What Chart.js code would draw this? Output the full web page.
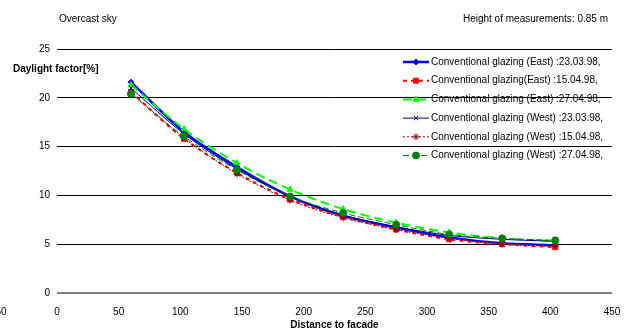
<!DOCTYPE html>
<html>
<head>
<meta charset="utf-8">
<script src="https://cdn.jsdelivr.net/npm/chart.js@4/dist/chart.umd.min.js"></script>
<style>
  html, body { margin: 0; padding: 0; background: #fff; }
  canvas { display: block; }
</style>
</head>
<body>
<canvas id="grafico" width="624" height="330"></canvas>
<script>
// distance to facade (cm) and daylight factor (%) per measurement
const distancias = [60, 103, 146, 189, 232, 275, 318, 361, 404];
const leste2303 = [21.6, 16.5, 12.9, 9.9, 7.9, 6.7, 5.7, 5.1, 4.9];
const leste1504 = [20.6, 15.8, 12.3, 9.6, 7.8, 6.5, 5.5, 5.0, 4.7];
const leste2704 = [21.3, 16.8, 13.3, 10.6, 8.6, 7.2, 6.2, 5.6, 5.3];
const oeste2303 = [21.0, 16.3, 12.7, 9.9, 8.0, 6.8, 5.9, 5.5, 5.3];
const oeste1504 = [20.5, 15.9, 12.2, 9.5, 7.7, 6.5, 5.6, 5.0, 4.8];
const oeste2704 = [20.4, 16.05, 12.6, 9.9, 8.2, 7.0, 6.0, 5.6, 5.4];

const rotulos = [
  "Conventional glazing (East) :23.03.98,",
  "Conventional glazing(East) :15.04.98,",
  "Conventional glazing (East) :27.04.98,",
  "Conventional glazing (West) :23.03.98,",
  "Conventional glazing (West) :15.04.98,",
  "Conventional glazing (West) :27.04.98,"
];
const xTicks = [-50, 0, 50, 100, 150, 200, 250, 300, 350, 400, 450];
const yTicks = [0, 5, 10, 15, 20, 25];

const FONTE = "'Liberation Sans', Arial, sans-serif";
Chart.defaults.font.family = FONTE;
Chart.defaults.font.size = 10;
Chart.defaults.color = "#000";

function pontos(valores) {
  return distancias.map((d, i) => ({ x: d, y: valores[i] }));
}

const estilos = [
  { cor: "#0000ff", largura: 2.5, traco: [], ponto: "rectRot", raio: 3 },
  { cor: "#ff0000", largura: 2, traco: [4, 4], ponto: "rect", raio: 3.5 },
  { cor: "#00ff00", largura: 2, traco: [9, 5], ponto: "triangle", raio: 3.5 },
  { cor: "#000080", largura: 1, traco: [], ponto: "crossRot", raio: 3 },
  { cor: "#800000", largura: 1, traco: [2, 2], ponto: "star", raio: 3.5 },
  { cor: "#008000", largura: 1, traco: [6, 3], ponto: "circle", raio: 3.5 }
];
const series = [leste2303, leste1504, leste2704, oeste2303, oeste1504, oeste2704];

const datasets = series.map((s, i) => ({
  label: rotulos[i],
  data: pontos(s),
  borderColor: estilos[i].cor,
  backgroundColor: estilos[i].cor,
  borderWidth: estilos[i].largura,
  borderDash: estilos[i].traco,
  pointStyle: estilos[i].ponto,
  pointRadius: estilos[i].raio,
  pointBorderWidth: 1,
  tension: 0.3,
  order: series.length - i
}));

// titles, extra tick and the legend drawn by hand
const extras = {
  id: "extras",
  afterDraw(chart) {
    const ctx = chart.ctx;
    const area = chart.chartArea;
    ctx.save();
    ctx.fillStyle = "#000";
    ctx.textBaseline = "middle";
    ctx.font = "10px " + FONTE;
    ctx.textAlign = "left";
    ctx.fillText("Overcast sky", 59, 19);
    ctx.textAlign = "right";
    ctx.fillText("Height of measurements: 0.85 m", 608, 19);

    ctx.font = "bold 10px " + FONTE;
    ctx.textAlign = "left";
    ctx.fillText("Daylight factor[%]", 13, 69);
    ctx.textAlign = "center";
    ctx.fillText("Distance to facade", (area.left + area.right) / 2, 325);

    // -50 tick sits left of the plot
    ctx.font = "10px " + FONTE;
    ctx.fillText(String(xTicks[0]), chart.scales.x.getPixelForValue(xTicks[0]) + 4, 312);

    chart.data.datasets.forEach((ds, i) => {
      const y = 62 + i * 18.7;
      ctx.save();
      ctx.strokeStyle = ds.borderColor;
      ctx.lineWidth = ds.borderWidth;
      ctx.setLineDash(ds.borderDash);
      ctx.beginPath();
      ctx.moveTo(403, y);
      ctx.lineTo(429, y);
      ctx.stroke();
      ctx.setLineDash([]);
      ctx.fillStyle = ds.backgroundColor;
      ctx.strokeStyle = ds.borderColor;
      ctx.lineWidth = 1;
      Chart.helpers.drawPoint(ctx, {
        pointStyle: ds.pointStyle, radius: ds.pointRadius, rotation: 0, borderWidth: 1
      }, 416, y);
      ctx.restore();
      ctx.fillStyle = "#000";
      ctx.textAlign = "left";
      ctx.fillText(ds.label, 431, y);
    });
    ctx.restore();
  }
};

new Chart(document.getElementById("grafico"), {
  type: "line",
  data: { datasets },
  plugins: [extras],
  options: {
    responsive: false,
    animation: false,
    events: [],
    layout: { padding: { top: 49, right: 12, left: 0, bottom: 0 } },
    plugins: { legend: { display: false }, tooltip: { enabled: false } },
    scales: {
      x: {
        type: "linear",
        min: 0,
        max: 450,
        afterBuildTicks: s => { s.ticks = xTicks.slice(1).map(v => ({ value: v })); },
        afterFit: s => { s.height = 37; s.paddingLeft = 0; s.paddingRight = 0; },
        grid: { display: false, drawTicks: false },
        border: { display: false },
        ticks: { padding: 13, maxRotation: 0, autoSkip: false }
      },
      y: {
        min: 0,
        max: 25,
        afterBuildTicks: s => { s.ticks = yTicks.map(v => ({ value: v })); },
        afterFit: s => { s.width = 57; s.paddingTop = 0; s.paddingBottom = 0; },
        grid: {
          drawTicks: false,
          color: c => c.tick && c.tick.value === 0 ? "#808080" : "#000",
          lineWidth: c => c.tick && c.tick.value === 0 ? 2 : 1
        },
        border: { display: false },
        ticks: { padding: 7 }
      }
    }
  }
});
</script>
</body>
</html>
